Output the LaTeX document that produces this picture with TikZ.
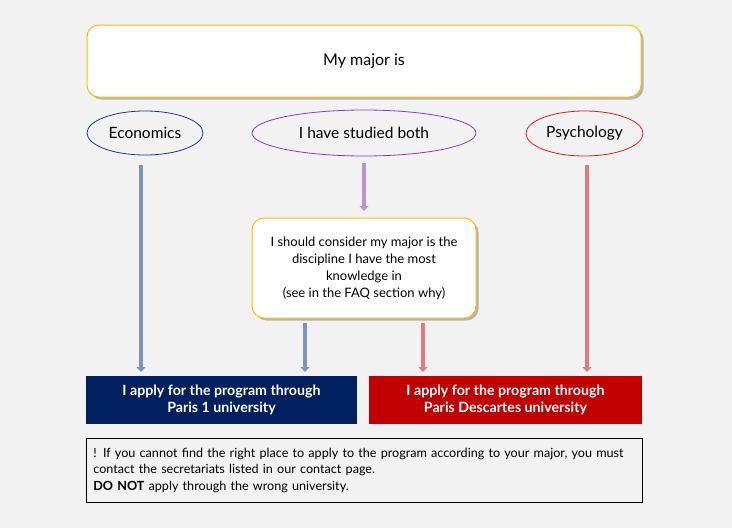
\documentclass[tikz,border=0pt]{standalone}
\usepackage{fontspec}
\setmainfont{Lato}
\usetikzlibrary{shadows,arrows.meta,shapes.geometric}
\definecolor{bg}{HTML}{F2F2F2}
\definecolor{gold}{HTML}{FFC000}
\definecolor{navy}{HTML}{002060}
\definecolor{darkred}{HTML}{C00000}
\definecolor{econ}{HTML}{1F3A78}
\definecolor{both}{HTML}{8040B8}
\definecolor{psy}{HTML}{E01818}
\definecolor{arblue}{HTML}{7A96B8}
\definecolor{arpurple}{HTML}{B495D8}
\definecolor{arred}{HTML}{E07A80}
\tikzset{
  goldbox/.style={draw=gold, line width=1pt, fill=white, rounded corners=12pt, align=center,
    drop shadow={shadow xshift=2.5pt, shadow yshift=-2.5pt, fill=black!45, opacity=0.6}},
  choice/.style={ellipse, draw, line width=0.8pt, inner sep=0pt, font=\fontsize{15.5}{18}\selectfont},
  uni/.style={draw=none, align=center, text=white, inner sep=0pt, font=\fontsize{14.2}{17.5}\selectfont\bfseries},
  flow/.style={line width=4.5pt, -{Triangle[length=5pt,width=9pt]}},
}
\begin{document}
\begin{tikzpicture}[x=1pt,y=-1pt]
\fill[bg] (0,0) rectangle (732,528);
\useasboundingbox (0,0) rectangle (732,528);
\node[goldbox, minimum width=554pt, minimum height=72pt, font=\fontsize{16}{19}\selectfont] (major) at (364,61) {My major is};
\node[choice, draw=econ, minimum width=116pt, minimum height=44pt] (econ) at (145,133) {Economics};
\node[choice, draw=both, minimum width=224pt, minimum height=46pt] (both) at (364,133) {I have studied both};
\node[choice, draw=psy, minimum width=117pt, minimum height=45pt] (psy) at (584.5,133.5) {Psychology};
\node[goldbox, minimum width=224pt, minimum height=100pt, font=\fontsize{13}{17}\selectfont] (consider) at (364,268)
  {I should consider my major is the\\discipline I have the most\\knowledge in\\(see in the FAQ section why)};
\node[uni, fill=navy, minimum width=271pt, minimum height=48pt] (p1) at (221.5,400) {I apply for the program through\\Paris 1 university};
\node[uni, fill=darkred, minimum width=273pt, minimum height=48pt] (p5) at (505.5,400) {I apply for the program through\\Paris Descartes university};
\node[draw=black, line width=0.7pt, fill=bg, minimum width=556pt, minimum height=64pt, text width=548pt, align=left, anchor=north west, inner xsep=4pt, inner ysep=4pt, font=\fontsize{12.6}{16.5}\selectfont] (note) at (86,438)
  {\hspace*{3pt}! If you cannot find the right place to apply to the program according to your major, you must\\
   \hspace*{3pt}contact the secretariats listed in our contact page.\\
   \hspace*{3pt}\textbf{DO NOT} apply through the wrong university.};
\coordinate (e0) at (141,165);
\coordinate (e1) at (141,372);
\coordinate (b0) at (364,163);
\coordinate (b1) at (364,211);
\coordinate (s0) at (587,165);
\coordinate (s1) at (587,372);
\coordinate (cb0) at (305,323);
\coordinate (cb1) at (305,372);
\coordinate (cr0) at (423,323);
\coordinate (cr1) at (423,372);
\draw[flow, arblue] (e0) -- (e1);
\draw[flow, arpurple] (b0) -- (b1);
\draw[flow, arred] (s0) -- (s1);
\draw[flow, arblue] (cb0) -- (cb1);
\draw[flow, arred] (cr0) -- (cr1);
\end{tikzpicture}
\end{document}
